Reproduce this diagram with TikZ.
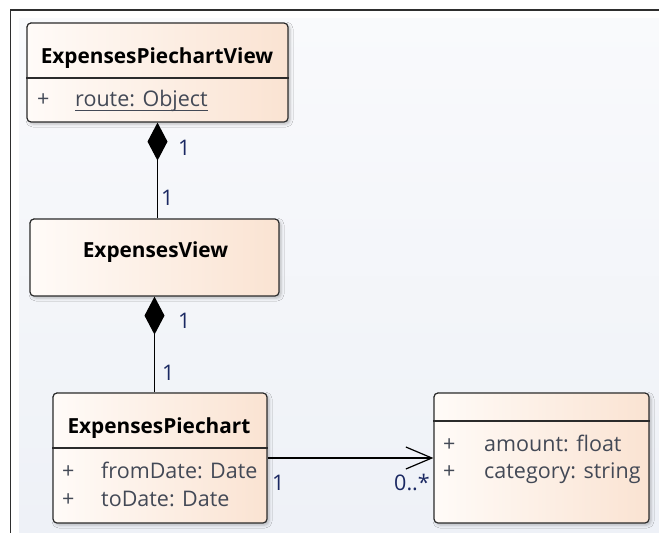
\documentclass[tikz,border=0pt]{standalone}
\usepackage{fontspec}
\setmainfont{Open Sans}
\usetikzlibrary{arrows.meta,shadows.blur}
\definecolor{frameline}{HTML}{2E2E2E}
\definecolor{canvastop}{HTML}{F9FAFC}
\definecolor{canvasbot}{HTML}{EEF1F7}
\definecolor{boxleft}{HTML}{FFFBF8}
\definecolor{boxright}{HTML}{FAE3D2}
\definecolor{boxline}{HTML}{2B2B2B}
\definecolor{attrcol}{HTML}{434956}
\definecolor{multcol}{HTML}{1A2862}
\tikzset{
  umlclass/.style={draw=boxline, line width=1.2pt, rounded corners=4pt,
    left color=boxleft, right color=boxright,
    blur shadow={shadow xshift=2pt, shadow yshift=-2pt, shadow blur radius=3pt, shadow opacity=25},
    inner sep=0pt},
  sepline/.style={draw=boxline, line width=1.2pt},
  classtitle/.style={font=\fontsize{20.8}{24}\selectfont\bfseries, text=black, inner sep=0pt, anchor=base},
  attr/.style={font=\fontsize{21.5}{25}\selectfont, text=attrcol, inner sep=0pt, anchor=base west},
  mult/.style={font=\fontsize{21.5}{25}\selectfont, text=multcol, inner sep=0pt, anchor=base west},
  composition/.style={draw=black, line width=1.2pt, {Diamond[length=38pt,width=20pt,fill=black]}-},
  navigable/.style={draw=black, line width=1.2pt, -{Straight Barb[length=26pt,width=22pt,line width=1.2pt]}},
}
\begin{document}
\begin{tikzpicture}[x=1pt,y=-1pt]
\useasboundingbox (0,0) rectangle (659,533);
% page and diagram frame
\fill[white] (0,0) rectangle (659,533);
\shade[top color=canvastop, bottom color=canvasbot] (19,18) rectangle (659,533);
\draw[frameline, line width=1.4pt] (10.5,533) -- (10.5,10) -- (659,10);

% ExpensesPiechartView
\node[umlclass, minimum width=261pt, minimum height=99pt] (pcv) at (157.5,72.5) {};
\draw[sepline] (pcv.west |- 0,78) -- (pcv.east |- 0,78);
\node[classtitle] (pcvtitle) at (157,63) {ExpensesPiechartView};
\node[attr] (pcvplus) at (37,106) {+};
\node[attr] (pcvroute) at (75,106) {route: Object};
\draw[attrcol, line width=1pt] ([yshift=-4.5pt]pcvroute.base west) -- ([yshift=-4.5pt]pcvroute.base east);

% ExpensesView
\node[umlclass, minimum width=249pt, minimum height=77pt] (ev) at (154.5,257.5) {};
\node[classtitle] (evtitle) at (155.5,257) {ExpensesView};

% ExpensesPiechart
\node[umlclass, minimum width=214pt, minimum height=130pt] (epc) at (160,458) {};
\draw[sepline] (epc.west |- 0,448) -- (epc.east |- 0,448);
\node[classtitle] (epctitle) at (159,433) {ExpensesPiechart};
\node[attr] (epcplus1) at (62,478) {+};
\node[attr] (epcfrom) at (101,478) {fromDate: Date};
\node[attr] (epcplus2) at (62,506) {+};
\node[attr] (epcto) at (101,506) {toDate: Date};

% unnamed data class
\node[umlclass, minimum width=215pt, minimum height=130pt] (data) at (541.5,458) {};
\draw[sepline] (data.west |- 0,421) -- (data.east |- 0,421);
\node[attr] (dataplus1) at (443,451) {+};
\node[attr] (dataamount) at (484,451) {amount: float};
\node[attr] (dataplus2) at (443,478) {+};
\node[attr] (datacat) at (484,478) {category: string};

% associations
\draw[composition] (pcv.south) -- (pcv.south |- ev.north);
\draw[composition] (ev.south) -- (ev.south |- epc.north);
\draw[navigable] (epc.east) -- (data.west);

% multiplicities
\node[mult] (m1) at (178,155) {1};
\node[mult] (m2) at (161,205) {1};
\node[mult] (m3) at (178,328) {1};
\node[mult] (m4) at (162,380) {1};
\node[mult] (m5) at (272,490) {1};
\node[mult, anchor=base east] (m6) at (430,490) {0..*};
\end{tikzpicture}
\end{document}
